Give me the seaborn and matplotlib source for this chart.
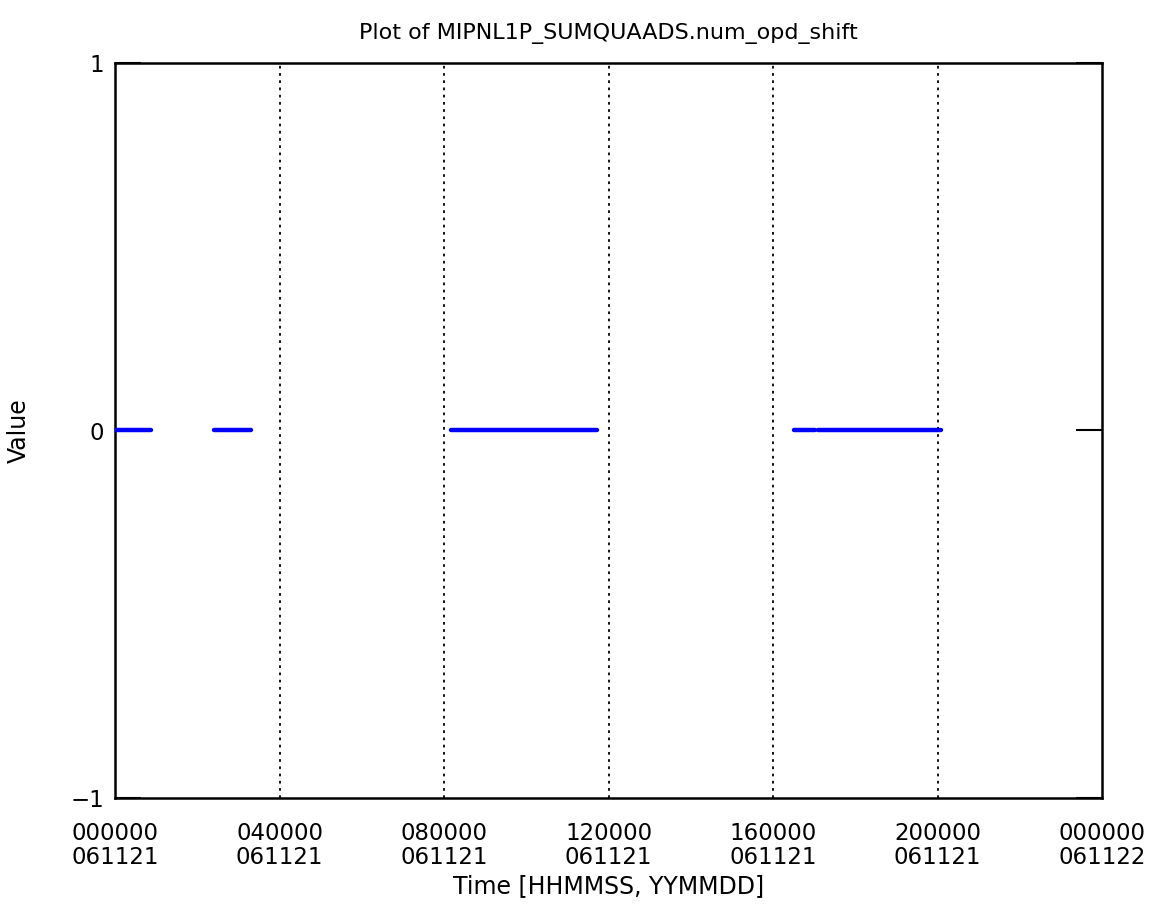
import numpy as np
import pandas as pd
import seaborn as sns
import matplotlib
matplotlib.use("Agg")
import matplotlib.pyplot as plt

# Data: segments (hours since 2006-11-21 00:00) where num_opd_shift was reported, value 0
seg_start = [0.00, 2.40, 8.16, 16.51, 17.09]
seg_end = [0.88, 3.30, 11.71, 17.01, 20.09]
seg_value = [0, 0, 0, 0, 0]

tick_hours = [0, 4, 8, 12, 16, 20, 24]
tick_labels = ["000000\n061121", "040000\n061121", "080000\n061121", "120000\n061121",
               "160000\n061121", "200000\n061121", "000000\n061122"]
grid_hours = [4, 8, 12, 16, 20]

rows = []
for i, (s, e, v) in enumerate(zip(seg_start, seg_end, seg_value)):
    rows.append({"seg": i, "hour": s, "value": v})
    rows.append({"seg": i, "hour": e, "value": v})
df = pd.DataFrame(rows)

sns.set_theme(style="white")
plt.rcParams['font.family'] = ['DejaVu Sans']
plt.rcParams['text.color'] = 'black'
plt.rcParams['axes.labelcolor'] = 'black'
plt.rcParams['xtick.color'] = 'black'
plt.rcParams['ytick.color'] = 'black'

fig = plt.figure(figsize=(11.6, 9.22), dpi=100)
ax = fig.add_axes([115 / 1160, 1 - 798 / 922, (1102 - 115) / 1160, (798 - 63) / 922])

for h in grid_hours:
    ax.axvline(h, color="black", lw=1.3, ls=(0, (1.5, 2.5)), zorder=1)

sns.lineplot(data=df, x="hour", y="value", units="seg", estimator=None,
             color=(0, 0, 1), lw=3.2, ax=ax, legend=False, zorder=3)

ax.set_xlim(0, 24)
ax.set_ylim(-1, 1)
ax.set_xticks(tick_hours)
ax.set_xticklabels(tick_labels, fontsize=16.5, linespacing=1.05)
ax.set_yticks([-1, 0, 1])
ax.set_yticklabels(["\u22121", "0", "1"], fontsize=16.5)
ax.tick_params(axis="x", length=0, pad=17)
ax.tick_params(axis="y", direction="in", length=19, width=1.5, color="black",
               right=True, left=True, pad=8)

for sp in ax.spines.values():
    sp.set_color("black")
    sp.set_linewidth(1.8)

ax.set_xlabel("Time [HHMMSS, YYMMDD]", fontsize=17, labelpad=4)
ax.set_ylabel("Value", fontsize=17, labelpad=28)
ax.set_title("Plot of MIPNL1P_SUMQUAADS.num_opd_shift", fontsize=16, pad=17)

fig.savefig("out.png", dpi=100)
